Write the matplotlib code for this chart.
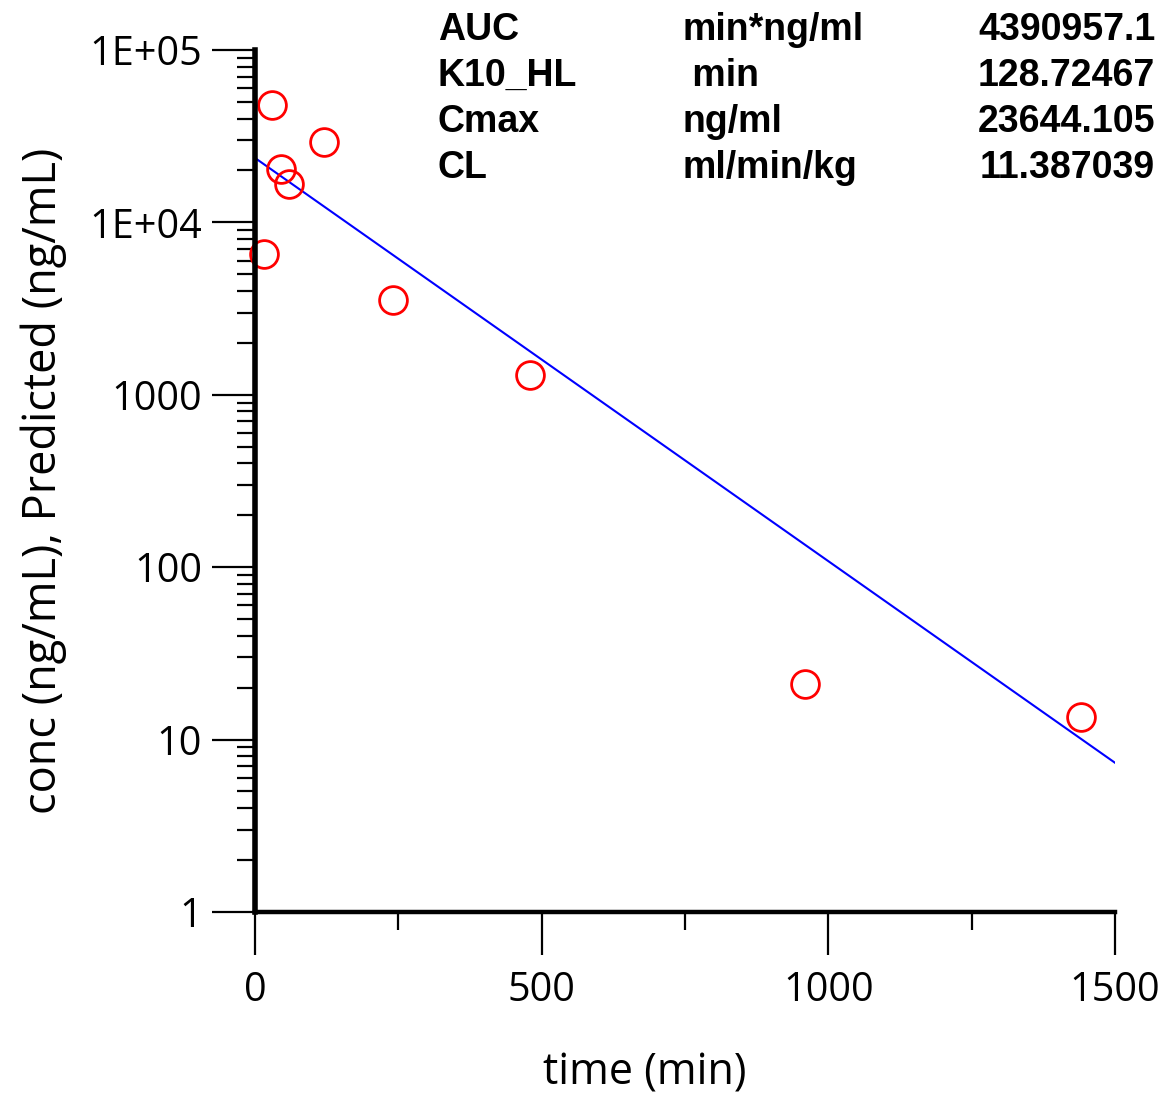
import numpy as np
import matplotlib
matplotlib.use("Agg")
import matplotlib.pyplot as plt
from matplotlib.ticker import FixedLocator, LogLocator, NullFormatter

# observed concentrations
time_obs = [15, 30, 45, 60, 120, 240, 480, 960, 1440]
conc_obs = [6560, 48000, 20400, 16700, 29300, 3550, 1300, 21, 13.5]

# predicted line (end points)
time_pred = [0, 1500]
conc_pred = [23644.105, 7.34]

# parameter table
par_names = ["AUC", "K10_HL", "Cmax", "CL"]
par_units = ["min*ng/ml", " min", "ng/ml", "ml/min/kg"]
par_values = ["4390957.1", "128.72467", "23644.105", "11.387039"]

y_ticks = [1, 10, 100, 1000, 1e4, 1e5]
y_labels = ["1", "10", "100", "1000", "1E+04", "1E+05"]
x_ticks = [0, 500, 1000, 1500]

plt.rcParams['font.family'] = ['Open Sans', 'DejaVu Sans']

fig = plt.figure(figsize=(11.74, 10.96), dpi=100)
ax = fig.add_axes([0.2172, 0.1679, 0.7325, 0.7865])

ax.plot(time_pred, conc_pred, color='#0000ff', lw=1.5, zorder=2)
ax.plot(time_obs, conc_obs, 'o', ms=20, mfc='none', mec='#ff0000', mew=2.0,
        clip_on=False, zorder=2)

ax.set_yscale('log')
ax.set_xlim(0, 1500)
ax.set_ylim(1, 1e5)

ax.spines['right'].set_visible(False)
ax.spines['top'].set_visible(False)
ax.spines['left'].set_linewidth(4.0)
ax.spines['bottom'].set_linewidth(3.2)

ax.yaxis.set_major_locator(FixedLocator(y_ticks))
ax.set_yticklabels(y_labels)
ax.yaxis.set_minor_locator(LogLocator(base=10, subs=np.arange(2, 10)))
ax.yaxis.set_minor_formatter(NullFormatter())

ax.set_xticks(x_ticks)
ax.set_xticklabels([str(v) for v in x_ticks])
ax.xaxis.set_minor_locator(FixedLocator([250, 750, 1250]))

ax.tick_params(axis='both', which='major', direction='out', length=31, width=1.6,
               labelsize=28.5, colors='black')
ax.tick_params(axis='y', which='major', pad=7)
ax.tick_params(axis='x', which='major', pad=11)
ax.tick_params(axis='both', which='minor', direction='out', length=13, width=1.6)

ax.set_xlabel('time (min)', fontsize=31)
ax.xaxis.set_label_coords(0.4535, -0.161)
ax.set_ylabel('conc (ng/mL), Predicted (ng/mL)', fontsize=32.5, labelpad=16)

row_y = [0.973, 0.931, 0.889, 0.847]
for name, unit, val, yy in zip(par_names, par_units, par_values, row_y):
    fig.text(0.373, yy, name, fontsize=27, fontweight='bold',
             family='Liberation Sans', va='center', ha='left')
    fig.text(0.581, yy, unit, fontsize=27, fontweight='bold',
             family='Liberation Sans', va='center', ha='left')
    fig.text(0.984, yy, val, fontsize=27, fontweight='bold',
             family='Liberation Sans', va='center', ha='right')

fig.savefig('out.png', dpi=100, facecolor='white')
